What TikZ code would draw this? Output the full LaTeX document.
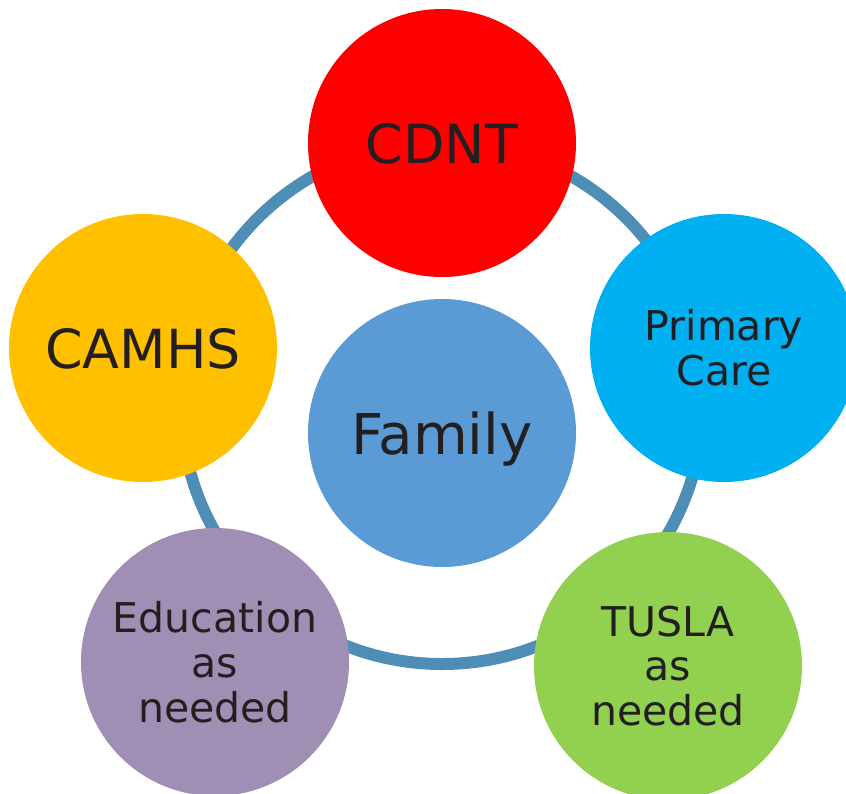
\documentclass[tikz,border=0pt]{standalone}
\usepackage{fontspec}
\setmainfont{DejaVu Sans}
\definecolor{ringblue}{RGB}{78,141,181}
\definecolor{cdntred}{RGB}{255,0,0}
\definecolor{camhsgold}{RGB}{255,192,0}
\definecolor{careblue}{RGB}{0,176,240}
\definecolor{tuslagreen}{RGB}{146,208,80}
\definecolor{edulilac}{RGB}{160,143,180}
\definecolor{familyblue}{RGB}{91,155,213}
\definecolor{inkdark}{RGB}{35,31,32}

\begin{document}
\begin{tikzpicture}[x=0.3mm, y=-0.3mm,
    agency/.style={circle, minimum size=80.4mm, inner sep=0pt, text=inkdark, align=center},
    bigtext/.style={font=\fontsize{46pt}{50pt}\selectfont, text depth=0pt},
    smalltext/.style={font=\fontsize{35pt}{38.3pt}\selectfont}]
        \useasboundingbox (0,0) rectangle (846,793);
        \clip (0,0) rectangle (846,793);
        % the ring behind the circles
        \coordinate (hub) at (442,403);
        \draw[ringblue, line width = 3.6mm] (hub) circle (261);
        % outer circles
        \node[agency, bigtext, fill=cdntred] (cdnt) at (442,143) {CDNT};
        \node[agency, bigtext, fill=camhsgold] (camhs) at (143,348) {CAMHS};
        \node[agency, smalltext, fill=careblue] (care) at (724,348) {Primary\\Care};
        \node[agency, smalltext, fill=tuslagreen] (tusla) at (668,666) {TUSLA\\as\\needed};
        \node[agency, smalltext, fill=edulilac] (edu) at (215,662) {Education\\as\\needed};
        % centre
        \node[agency, font=\fontsize{48pt}{52pt}\selectfont, text depth=0pt, fill=familyblue] (family) at (442,433) {Family};
\end{tikzpicture}
\end{document}
